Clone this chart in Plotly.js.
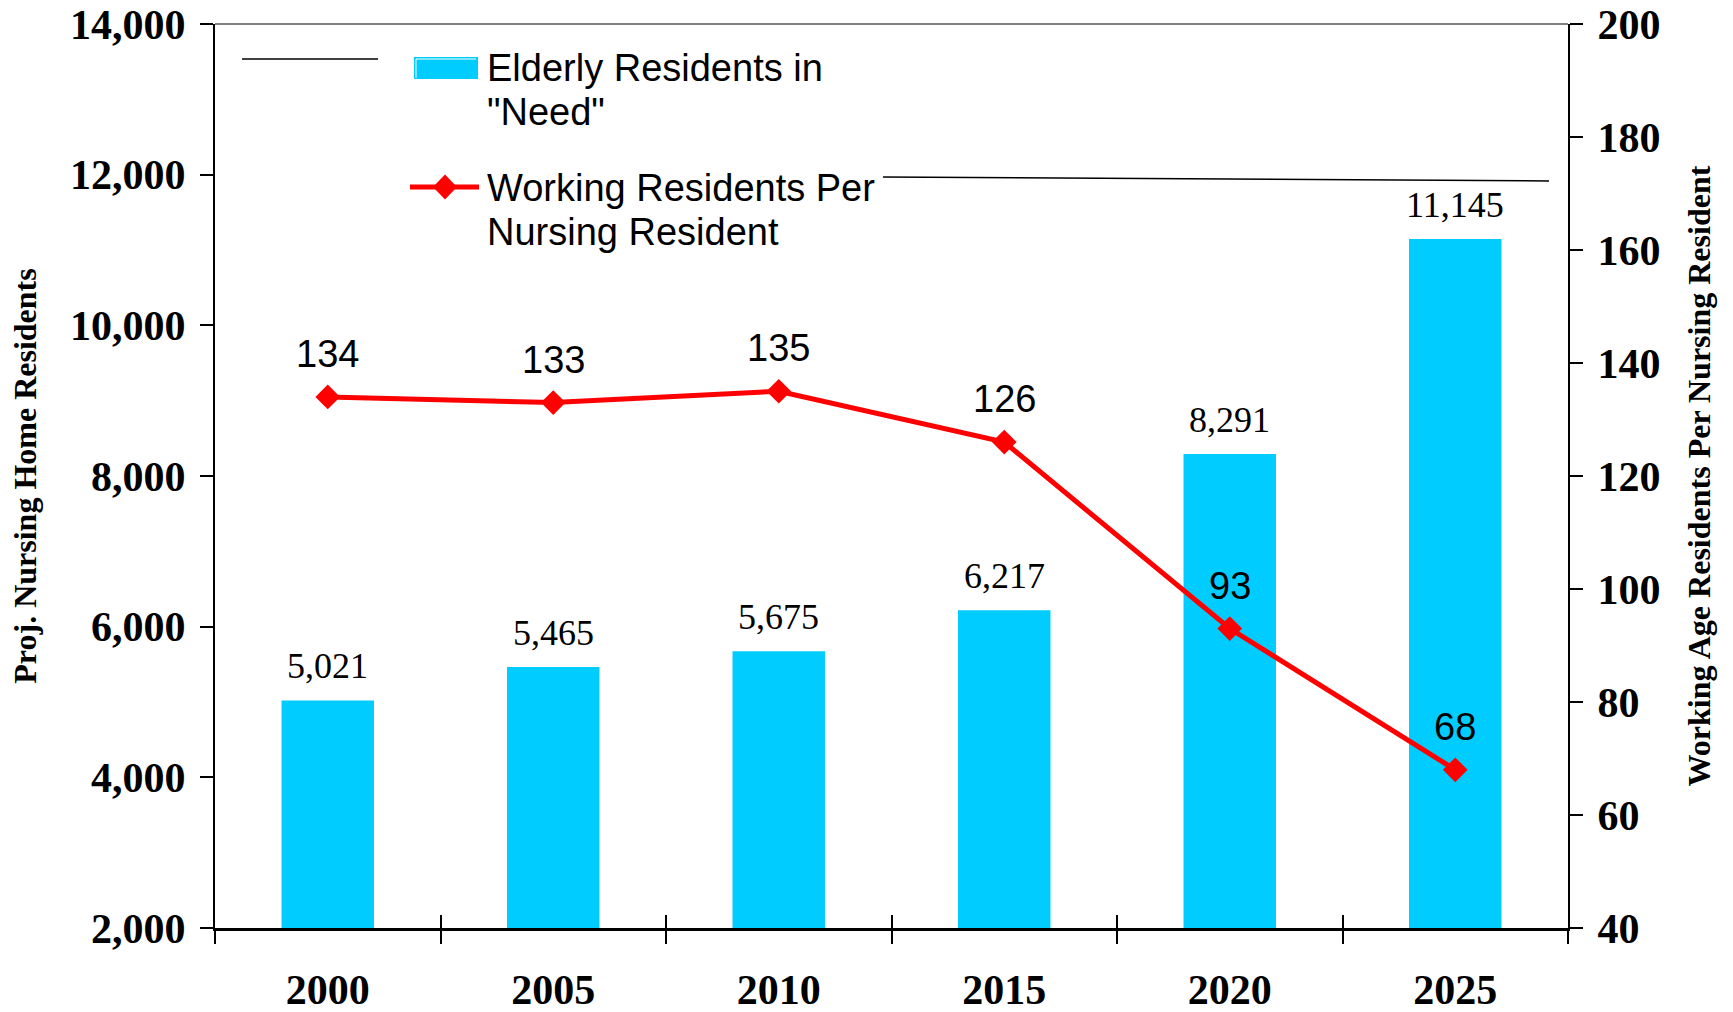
<!DOCTYPE html>
<html>
<head>
<meta charset="utf-8">
<script src="https://cdn.plot.ly/plotly-3.0.1.min.js"></script>
<style>
  html, body { margin: 0; padding: 0; background: #fff; }
  #chart { width: 1733px; height: 1012px; }
</style>
</head>
<body>
<div id="chart"></div>
<script>
// ---- data ----
const years = ['2000', '2005', '2010', '2015', '2020', '2025'];
const elderlyInNeed = [5021, 5465, 5675, 6217, 8291, 11145];
const workingPerNursingResident = [134, 133, 135, 126, 93, 68];
const barSeriesName = 'Elderly Residents in "Need"';
const lineSeriesName = 'Working Residents Per Nursing Resident';
const leftAxisTitle = 'Proj. Nursing Home Residents';
const rightAxisTitle = 'Working Age Residents Per Nursing Resident';

// ---- layout geometry ----
const W = 1733, H = 1012;
const M = { l: 215, r: 165, t: 24, b: 84 };
const PW = W - M.l - M.r, PH = H - M.t - M.b;
const px = x => (x - M.l) / PW;
const py = y => (M.t + PH - y) / PH;

const serif = 'Liberation Serif, Times New Roman, serif';
const sans = 'Liberation Sans, Arial, sans-serif';
const BAR = '#00CCFF';
const RED = '#FF0000';

const tickFont = { family: serif, size: 42, color: '#000', weight: 'bold' };

const traces = [
  {
    type: 'bar', name: barSeriesName, x: years, y: elderlyInNeed,
    xaxis: 'x', yaxis: 'y',
    marker: { color: BAR, line: { width: 0 } },
    hoverinfo: 'x+y'
  },
  {
    type: 'scatter', mode: 'lines+markers', name: lineSeriesName,
    x: years, y: workingPerNursingResident,
    xaxis: 'x2', yaxis: 'y2',
    line: { color: RED, width: 5 },
    marker: { symbol: 'diamond', size: 19, color: RED },
    hoverinfo: 'x+y'
  }
];

const annotations = [];
// category axes: annotation x is given as the category index
years.forEach((yr, i) => {
  annotations.push({
    x: i, y: elderlyInNeed[i], xref: 'x', yref: 'y',
    text: elderlyInNeed[i].toLocaleString('en-US'),
    showarrow: false, yanchor: 'bottom', yshift: 12,
    font: { family: serif, size: 36, color: '#000' }
  });
  annotations.push({
    x: i, y: workingPerNursingResident[i], xref: 'x2', yref: 'y2',
    text: String(workingPerNursingResident[i]),
    showarrow: false, yanchor: 'bottom', yshift: 20,
    font: { family: sans, size: 38, color: '#000' }
  });
});

// custom legend text
const legFont = { family: sans, size: 38, color: '#000' };
[
  ['Elderly Residents in', 68.5],
  ['"Need"', 111.6],
  ['Working Residents Per', 188],
  ['Nursing Resident', 232]
].forEach(([t, y]) => {
  annotations.push({
    xref: 'paper', yref: 'paper', x: px(485), y: py(y),
    xanchor: 'left', yanchor: 'middle', text: t, showarrow: false, font: legFont
  });
});

const shapes = [
  // top border (gray)
  { type: 'line', xref: 'paper', yref: 'paper', x0: 0, x1: 1, y0: 1, y1: 1,
    line: { color: '#808080', width: 2 } },
  // legend: bar swatch
  { type: 'rect', xref: 'paper', yref: 'paper', x0: px(414), x1: px(478), y0: py(79), y1: py(57),
    fillcolor: BAR, line: { width: 0 } },
  { type: 'path', xref: 'paper', yref: 'paper',
    path: `M ${px(416)} ${py(78)} L ${px(416)} ${py(59)} L ${px(476)} ${py(59)}`,
    line: { color: '#ffffff', width: 1 } },
  // legend: line swatch
  { type: 'line', xref: 'paper', yref: 'paper', x0: px(410), x1: px(479), y0: py(187), y1: py(187),
    line: { color: RED, width: 5 } },
  { type: 'path', xref: 'paper', yref: 'paper',
    path: `M ${px(433)} ${py(187)} L ${px(445)} ${py(174.5)} L ${px(457)} ${py(187)} L ${px(445)} ${py(199.5)} Z`,
    fillcolor: RED, line: { color: RED, width: 0 } },
  // stray legend border fragments
  { type: 'line', xref: 'paper', yref: 'paper', x0: px(242), x1: px(378), y0: py(59), y1: py(59),
    line: { color: '#000', width: 1.5 } },
  { type: 'line', xref: 'paper', yref: 'paper', x0: px(883), x1: px(1549), y0: py(177), y1: py(181),
    line: { color: '#000', width: 1.5 } }
];

const yRange = [2000, 14000];
const y2Range = [40, 200];

const layout = {
  width: W, height: H,
  margin: M,
  paper_bgcolor: '#fff', plot_bgcolor: '#fff',
  showlegend: false,
  bargap: 0.59,
  xaxis: {
    type: 'category', range: [-0.5, 5.5], tickson: 'boundaries',
    ticks: 'outside', ticklen: 13, tickwidth: 2, tickcolor: '#000',
    showline: true, linecolor: '#000', linewidth: 3,
    showgrid: false, zeroline: false,
    tickfont: tickFont, ticklabelstandoff: 23
  },
  xaxis2: {
    type: 'category', range: [-0.5, 5.5], overlaying: 'x', anchor: 'y', side: 'bottom',
    tickson: 'boundaries', ticks: 'inside', ticklen: 13, tickwidth: 2, tickcolor: '#000',
    showticklabels: false, showline: false, showgrid: false, zeroline: false
  },
  yaxis: {
    range: yRange, dtick: 2000, tickformat: ',d',
    ticks: 'outside', ticklen: 13, tickwidth: 2, tickcolor: '#000',
    showline: true, linecolor: '#000', linewidth: 2,
    showgrid: false, zeroline: false,
    tickfont: tickFont, ticklabelstandoff: 6,
    title: { text: leftAxisTitle, standoff: 24,
      font: { family: serif, size: 32, color: '#000', weight: 'bold' } }
  },
  yaxis2: {
    range: y2Range, dtick: 20, overlaying: 'y', side: 'right', anchor: 'x',
    ticks: 'outside', ticklen: 13, tickwidth: 2, tickcolor: '#000',
    showline: true, linecolor: '#000', linewidth: 2,
    showgrid: false, zeroline: false,
    tickfont: tickFont, ticklabelstandoff: 6,
    title: { text: rightAxisTitle, standoff: 28,
      font: { family: serif, size: 32, color: '#000', weight: 'bold' } }
  },
  yaxis3: {
    range: yRange, dtick: 2000, overlaying: 'y', side: 'left', anchor: 'x',
    ticks: 'inside', ticklen: 13, tickwidth: 2, tickcolor: '#000',
    showticklabels: false, showline: false, showgrid: false, zeroline: false
  },
  yaxis4: {
    range: y2Range, dtick: 20, overlaying: 'y', side: 'right', anchor: 'x',
    ticks: 'inside', ticklen: 13, tickwidth: 2, tickcolor: '#000',
    showticklabels: false, showline: false, showgrid: false, zeroline: false
  },
  annotations: annotations,
  shapes: shapes
};

Plotly.newPlot('chart', traces, layout, { displayModeBar: false, responsive: false });
</script>
</body>
</html>
